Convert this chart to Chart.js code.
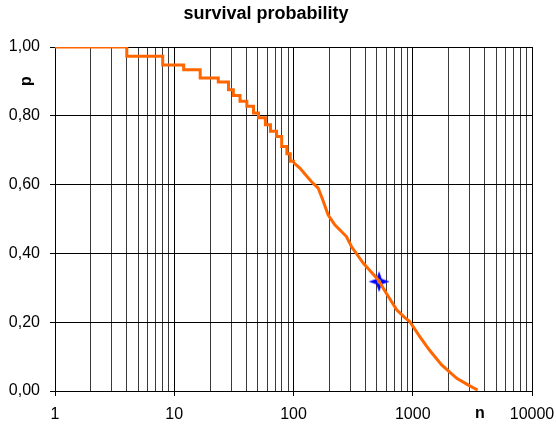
<!DOCTYPE html>
<html lang="en">
<head>
    <meta charset="UTF-8" />
    <title>survival probability</title>
    <script src="https://cdn.jsdelivr.net/npm/chart.js"></script>
    <style>
        html, body { margin: 0; padding: 0; background: #fff; }
        #wrap { width: 556px; height: 426px; }
    </style>
</head>
<body>
    <div id="wrap"><canvas id="survChart" width="556" height="426"></canvas></div>
    <script>
        // early part: clear steps (value drops to p at n)
        const stepN = [1, 4, 8, 12, 16.5, 23.4, 28.5, 31.3, 35.6, 40.6, 46.2, 50.9, 58.1, 64.1, 72.1, 79.6, 88, 94, 100];
        const stepP = [1.000, 0.973, 0.948, 0.934, 0.910, 0.898, 0.876, 0.859, 0.842, 0.828, 0.808, 0.794, 0.774, 0.755, 0.740, 0.711, 0.690, 0.668, 0.664];

        // later part: dense small steps, drawn as a polyline
        const tailN = [100, 113, 141, 161, 178, 195, 222, 278, 306, 384, 437, 514, 600, 733, 850, 942, 1145, 1380, 1747, 2338, 2930, 3500];
        const tailP = [0.664, 0.648, 0.609, 0.590, 0.551, 0.512, 0.483, 0.449, 0.420, 0.372, 0.350, 0.323, 0.284, 0.236, 0.215, 0.202, 0.158, 0.119, 0.076, 0.037, 0.017, 0.003];

        // marked point
        const markN = [522];
        const markP = [0.318];

        const yTicks = [0, 0.2, 0.4, 0.6, 0.8, 1.0];
        const xDecades = [1, 10, 100, 1000, 10000];

        const FONT = "'Liberation Sans', Arial, sans-serif";
        const ORANGE = '#FF6600';

        // all 1..9 x 10^k grid values
        const xGridVals = [];
        for (let d = 0; d < xDecades.length - 1; d++) {
            for (let m = 1; m < 10; m++) xGridVals.push(m * xDecades[d]);
        }
        xGridVals.push(xDecades[xDecades.length - 1]);

        const isDecade = v => xDecades.includes(v);

        // 4-pointed star marker
        function makeStar() {
            const c = document.createElement('canvas');
            c.width = 24; c.height = 24;
            const g = c.getContext('2d');
            const cx = 12, cy = 12, R = 10.5, r = 3.8;
            g.beginPath();
            for (let i = 0; i < 8; i++) {
                const a = -Math.PI / 2 + i * Math.PI / 4;
                const rad = i % 2 === 0 ? R : r;
                g.lineTo(cx + rad * Math.cos(a), cy + rad * Math.sin(a));
            }
            g.closePath();
            g.fillStyle = '#0000FF';
            g.fill();
            g.beginPath();
            g.arc(cx, cy, 2, 0, Math.PI * 2);
            g.fillStyle = '#33E0FF';
            g.fill();
            return c;
        }

        const axisTitles = {
            id: 'axisTitles',
            afterDraw(chart) {
                const ctx = chart.ctx;
                ctx.save();
                ctx.fillStyle = '#000';
                ctx.font = `bold 16px ${FONT}`;
                ctx.textAlign = 'center';
                ctx.textBaseline = 'middle';
                ctx.fillText('n', 480, 414);
                ctx.translate(27, 81);
                ctx.rotate(-Math.PI / 2);
                ctx.fillText('p', 0, 0);
                ctx.restore();
            }
        };

        const lineStyle = {
            borderColor: ORANGE,
            borderWidth: 3,
            pointRadius: 0,
            fill: false
        };

        new Chart(document.getElementById('survChart'), {
            type: 'line',
            data: {
                datasets: [{
                    label: 'survival steps',
                    data: stepN.map((n, i) => ({ x: n, y: stepP[i] })),
                    stepped: 'before',
                    ...lineStyle
                }, {
                    label: 'survival tail',
                    data: tailN.map((n, i) => ({ x: n, y: tailP[i] })),
                    ...lineStyle
                }, {
                    label: 'mark',
                    data: markN.map((n, i) => ({ x: n, y: markP[i] })),
                    showLine: false,
                    pointStyle: makeStar(),
                    pointRadius: 11
                }]
            },
            plugins: [axisTitles],
            options: {
                responsive: false,
                animation: false,
                layout: { padding: { left: 0, right: 24, top: 0, bottom: 0 } },
                plugins: {
                    legend: { display: false },
                    tooltip: { enabled: false },
                    title: {
                        display: true,
                        text: 'survival probability',
                        color: '#000',
                        font: { family: FONT, size: 18, weight: 'bold', lineHeight: 1.2 },
                        padding: { top: 3, bottom: 22.4 }
                    }
                },
                scales: {
                    x: {
                        type: 'logarithmic',
                        min: 1,
                        max: 10000,
                        afterBuildTicks: s => { s.ticks = xGridVals.map(v => ({ value: v })); },
                        afterFit: s => { s.height = 35; s.paddingLeft = 0; s.paddingRight = 0; },
                        ticks: {
                            autoSkip: false,
                            maxRotation: 0,
                            color: '#000',
                            padding: 9,
                            font: { family: FONT, size: 16 },
                            callback: v => isDecade(v) ? String(v) : ''
                        },
                        grid: {
                            color: c => isDecade(c.tick.value) ? '#000' : '#3a3a3a',
                            tickColor: c => isDecade(c.tick.value) ? '#000' : 'rgba(0,0,0,0)',
                            tickLength: 5,
                            lineWidth: 1
                        },
                        border: { color: '#000', width: 1 }
                    },
                    y: {
                        min: 0,
                        max: 1,
                        afterBuildTicks: s => { s.ticks = yTicks.map(v => ({ value: v })); },
                        afterFit: s => { s.width = 55; },
                        ticks: {
                            color: '#000',
                            padding: 10,
                            font: { family: FONT, size: 16 },
                            callback: v => v.toFixed(2).replace('.', ',')
                        },
                        grid: { color: '#000', tickColor: '#000', tickLength: 5, lineWidth: 1 },
                        border: { color: '#000', width: 1 }
                    }
                }
            }
        });
    </script>
</body>
</html>
